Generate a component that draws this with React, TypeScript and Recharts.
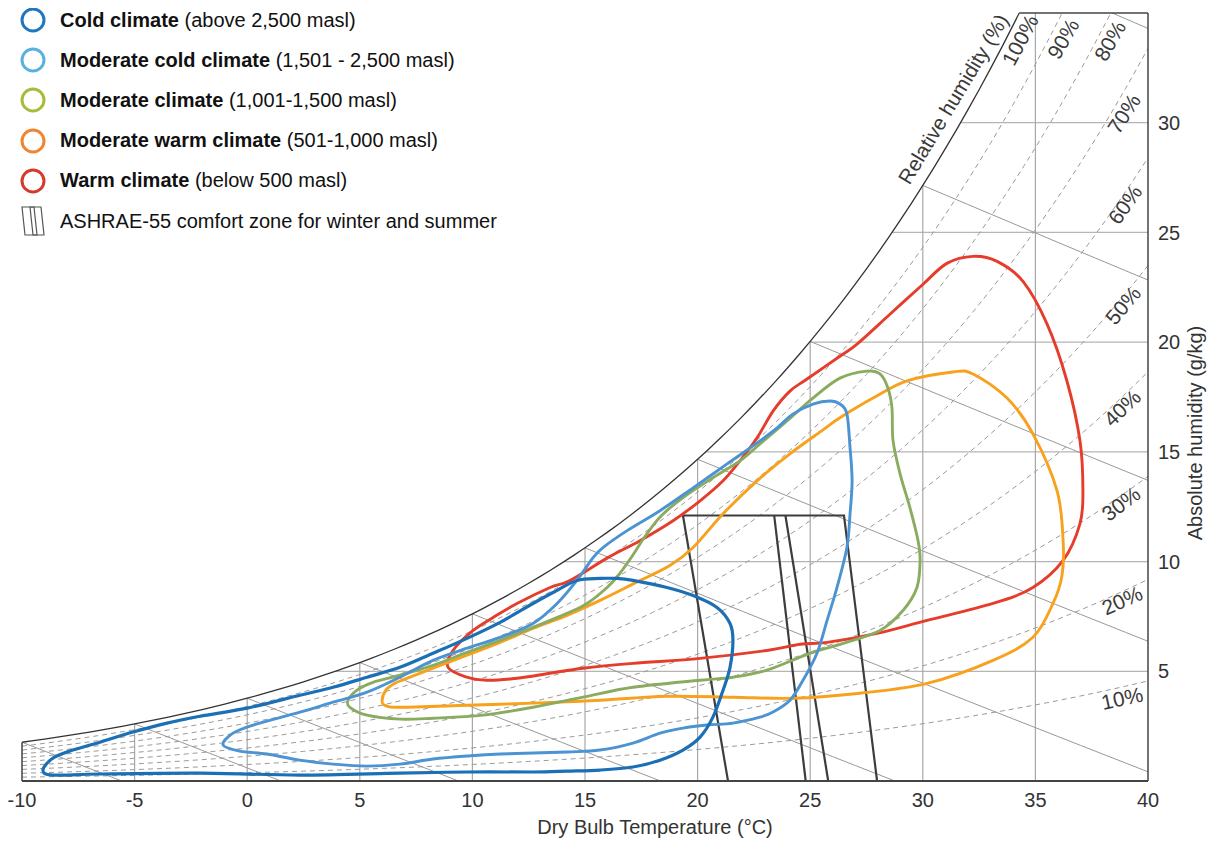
import React from "react";
import { LineChart, Line, XAxis, YAxis, ReferenceDot, Label } from "recharts";

const FONT = "'Liberation Sans', Arial, Helvetica, sans-serif";

// axis values
const tempTicks = [-10, -5, 0, 5, 10, 15, 20, 25, 30, 35, 40];
const humidityTicks = [5, 10, 15, 20, 25, 30];
const gridTemps = [-5, 0, 5, 10, 15, 20, 25, 30, 35];
const rhLevels = [10, 20, 30, 40, 50, 60, 70, 80, 90];
const rhLabels = ["10%", "20%", "30%", "40%", "50%", "60%", "70%", "80%", "90%", "100%"];
const wetBulbTemps = [-10, -5, 0, 5, 10, 15, 20, 25, 30, 35];

// climate envelopes, [dry bulb °C, absolute humidity g/kg]
const coldClimate = [
  [-9.07, 0.5], [-8.62, 1.05], [-7.74, 1.41], [-6.54, 1.77], [-5.07, 2.23], [-3.56, 2.64],
  [-2.1, 2.95], [0, 3.32], [2.34, 3.91], [3.81, 4.27], [5.32, 4.73], [6.78, 5.18],
  [8.25, 5.82], [9.76, 6.5], [11.23, 7.23], [12.69, 8.09], [13.58, 8.59], [14.64, 9.14],
  [15.67, 9.23], [16.42, 9.23], [17.13, 9.14], [18.64, 8.82], [19.8, 8.45], [20.86, 7.91],
  [21.44, 7.18], [21.57, 6.41], [21.44, 5.18], [21.13, 4.14], [20.68, 2.91], [20.11, 2.0],
  [19.35, 1.41], [18.33, 0.95], [17.13, 0.64], [15.67, 0.5], [14.2, 0.45], [12.69, 0.41],
  [9.76, 0.41], [6.78, 0.36], [2.34, 0.27], [-2.1, 0.36], [-6.54, 0.32], [-8.62, 0.27],
];

const moderateColdClimate = [
  [-1.07, 1.64], [-0.63, 2.18], [0.26, 2.55], [2.34, 3.14], [3.81, 3.59], [5.32, 4.05],
  [6.78, 4.73], [8.25, 5.5], [9.76, 6.05], [11.23, 6.55], [12.69, 7.18], [13.76, 8.09],
  [14.64, 9.14], [15.36, 10.18], [15.8, 10.64], [16.87, 11.41], [18.33, 12.32], [19.8, 13.36],
  [21.31, 14.45], [22.77, 15.5], [23.53, 16.09], [24.24, 16.73], [25.12, 17.18], [25.88, 17.32],
  [26.32, 17.18], [26.63, 16.73], [26.77, 15.18], [26.86, 13.68], [26.77, 12.18], [26.63, 10.64],
  [26.19, 8.82], [25.75, 7.32], [25.3, 5.82], [24.68, 4.59], [24.1, 3.68], [23.35, 3.14],
  [22.77, 2.91], [21.57, 2.64], [20.42, 2.55], [19.35, 2.41], [18.33, 2.18], [17.13, 1.73],
  [15.67, 1.41], [14.2, 1.32], [11.23, 1.23], [9.76, 1.14], [8.25, 1.0], [6.78, 0.77],
  [5.32, 0.68], [3.81, 0.77], [2.34, 0.95], [0.88, 1.23], [-0.32, 1.36],
];

const moderateClimate = [
  [4.48, 3.68], [4.88, 4.14], [5.59, 4.5], [6.78, 4.82], [8.25, 5.27], [9.76, 5.86],
  [11.23, 6.41], [12.69, 7.0], [14.2, 7.64], [15.09, 8.09], [15.98, 8.82], [16.5, 9.4],
  [17.13, 10.3], [17.7, 11.2], [18.4, 12.1], [19.4, 12.95], [20.68, 13.82], [21.88, 14.59],
  [22.77, 15.36], [23.97, 16.41], [25.12, 17.45], [26.32, 18.36], [27.52, 18.68], [28.1, 18.55],
  [28.45, 17.91], [28.63, 17.0], [28.68, 15.5], [28.99, 14.0], [29.43, 12.45], [29.79, 10.95],
  [29.88, 10.05], [29.74, 8.82], [29.12, 7.77], [28.1, 6.86], [26.46, 6.27], [24.99, 5.82],
  [23.08, 5.05], [21.57, 4.73], [20.11, 4.59], [17.13, 4.27], [14.91, 3.82], [12.69, 3.36],
  [10.47, 3.0], [8.25, 2.86], [6.78, 2.82], [5.32, 3.0], [4.56, 3.36],
];

const moderateWarmClimate = [
  [5.99, 3.68], [6.16, 4.14], [6.56, 4.45], [7.0, 4.64], [8.25, 5.14], [9.76, 5.73],
  [11.23, 6.32], [12.69, 6.95], [14.2, 7.55], [15.67, 8.23], [17.27, 9.05], [18.77, 9.82],
  [19.8, 10.64], [21.13, 12.18], [22.64, 13.68], [24.1, 14.91], [25.57, 16.0], [26.32, 16.55],
  [27.79, 17.45], [29.3, 18.23], [31.34, 18.64], [32.23, 18.55], [33.74, 17.45], [34.89, 15.82],
  [35.96, 13.23], [36.23, 10.95], [36.18, 9.36], [35.78, 8.09], [34.89, 6.55], [33.12, 5.5],
  [30.19, 4.45], [27.21, 4.0], [24.24, 3.77], [21.57, 3.82], [18.64, 3.86], [15.67, 3.68],
  [12.69, 3.55], [9.76, 3.45], [6.78, 3.36], [6.12, 3.45],
];

const warmClimate = [
  [8.92, 5.18], [9.14, 5.95], [10.03, 6.86], [10.92, 7.45], [11.98, 8.09], [13.45, 8.82],
  [14.33, 9.14], [16.02, 10.18], [17.44, 10.95], [18.91, 11.86], [20.11, 12.77], [21.13, 13.68],
  [21.88, 14.59], [22.64, 15.64], [23.35, 16.86], [24.1, 17.77], [24.86, 18.32], [26.32, 19.36],
  [27.08, 19.91], [28.54, 21.27], [30.01, 22.64], [31.07, 23.59], [32.23, 23.91], [33.3, 23.68],
  [34.45, 22.77], [35.52, 20.82], [36.4, 18.23], [36.98, 15.5], [37.11, 13.23], [36.98, 11.73],
  [36.23, 10.05], [34.89, 8.82], [33.12, 8.09], [30.19, 7.32], [27.97, 6.73], [25.75, 6.32],
  [24.55, 6.23], [23.08, 5.95], [20.11, 5.59], [17.13, 5.36], [14.91, 5.14], [13.45, 4.91],
  [11.98, 4.68], [10.65, 4.59], [9.76, 4.73],
];

// ASHRAE-55 comfort zones: outline plus the two inner edges
const comfortOutline = [[19.35, 12.1], [26.5, 12.1], [27.97, 0], [21.35, 0]];
const winterEdge = [[23.4, 12.1], [24.8, 0]];
const summerEdge = [[23.9, 12.1], [25.8, 0]];

const zones = [
  { key: "cold", title: "Cold climate", note: "(above 2,500 masl)", points: coldClimate },
  { key: "modCold", title: "Moderate cold climate", note: "(1,501 - 2,500 masl)", points: moderateColdClimate },
  { key: "moderate", title: "Moderate climate", note: "(1,001-1,500 masl)", points: moderateClimate },
  { key: "modWarm", title: "Moderate warm climate", note: "(501-1,000 masl)", points: moderateWarmClimate },
  { key: "warm", title: "Warm climate", note: "(below 500 masl)", points: warmClimate },
];

const lineColor: Record<string, string> = {
  cold: "#1b6fb5",
  modCold: "#4b93d3",
  moderate: "#8bab5f",
  modWarm: "#f8a11c",
  warm: "#e53c2b",
};
const legendColor: Record<string, string> = {
  cold: "#1f77c0",
  modCold: "#5ab0df",
  moderate: "#a6bd3c",
  modWarm: "#f08531",
  warm: "#d43b2b",
};

// label layout: [t, w, angle]
const rhLabelSpots = [
  [38.85, 3.77, -12], [38.85, 8.23, -24], [38.8, 12.64, -37], [38.85, 17.0, -44],
  [38.89, 21.68, -50], [38.98, 26.27, -55], [38.93, 30.41, -57], [38.31, 33.73, -60],
  [36.23, 33.82, -60], [34.32, 33.77, -62],
];

// psychrometrics at sea level
const P = 101.325;
const T_MIN = -10;
const T_MAX = 40;
const W_MAX = 35;
const pws = (t: number) => 0.61094 * Math.exp((17.625 * t) / (t + 243.04));
const humidity = (t: number, rh: number) => {
  const pw = (rh / 100) * pws(t);
  return (622 * pw) / (P - pw);
};
const wetBulbHumidity = (t: number, twb: number) => {
  const ws = humidity(twb, 100) / 1000;
  return (1000 * ((2501 - 2.326 * twb) * ws - 1.006 * (t - twb))) / (2501 + 1.86 * t - 4.186 * twb);
};

const bisect = (g: (t: number) => number, a: number, b: number) => {
  let ga = g(a);
  for (let i = 0; i < 60; i++) {
    const m = (a + b) / 2;
    const gm = g(m);
    if (gm > 0 === ga > 0) {
      a = m;
      ga = gm;
    } else b = m;
  }
  return (a + b) / 2;
};

const sample = (f: (t: number) => number, t0: number, t1: number, step = 0.5) => {
  const pts = [];
  for (let t = t0; t < t1 - 1e-6; t += step) pts.push({ t, w: f(t) });
  pts.push({ t: t1, w: f(t1) });
  return pts;
};

const rhCurve = (rh: number) => {
  const f = (t: number) => humidity(t, rh);
  const end = f(T_MAX) > W_MAX ? bisect((t) => f(t) - W_MAX, T_MIN, T_MAX) : T_MAX;
  return sample(f, T_MIN, end);
};

const wetBulbLine = (twb: number) => {
  const f = (t: number) => wetBulbHumidity(t, twb);
  const start = f(twb) > W_MAX ? bisect((t) => f(t) - W_MAX, twb, T_MAX) : twb;
  const end = f(T_MAX) < 0 ? bisect(f, twb, T_MAX) : T_MAX;
  return sample(f, start, end, 1);
};

const satTemp = (w: number) => bisect((t) => humidity(t, 100) - w, T_MIN, T_MAX);

const toRows = (pts: number[][]) => pts.map(([t, w]) => ({ t, w }));

// closed Catmull-Rom curve passing through every point
const closedCurve = (context: any) => {
  let pts: number[][] = [];
  return {
    areaStart() {},
    areaEnd() {},
    lineStart() {
      pts = [];
    },
    point(x: number, y: number) {
      pts.push([+x, +y]);
    },
    lineEnd() {
      const n = pts.length;
      if (n < 3) return;
      context.moveTo(pts[0][0], pts[0][1]);
      for (let i = 0; i < n; i++) {
        const p0 = pts[(i - 1 + n) % n];
        const p1 = pts[i];
        const p2 = pts[(i + 1) % n];
        const p3 = pts[(i + 2) % n];
        context.bezierCurveTo(
          p1[0] + (p2[0] - p0[0]) / 6,
          p1[1] + (p2[1] - p0[1]) / 6,
          p2[0] - (p3[0] - p1[0]) / 6,
          p2[1] - (p3[1] - p1[1]) / 6,
          p2[0],
          p2[1]
        );
      }
      context.closePath();
    },
  };
};

const plain = { dot: false, activeDot: false, isAnimationActive: false, legendType: "none" as const, dataKey: "w" };

const RotatedText = ({ viewBox, text, angle, size }: any) => {
  const x = viewBox.x + viewBox.width / 2;
  const y = viewBox.y + viewBox.height / 2;
  return (
    <text
      x={x}
      y={y}
      textAnchor="middle"
      dominantBaseline="central"
      transform={`rotate(${angle}, ${x}, ${y})`}
      fill="#3a3a3a"
      fontSize={size}
      fontFamily={FONT}
    >
      {text}
    </text>
  );
};

const ComfortIcon = () => (
  <svg width={28} height={32} style={{ display: "block" }}>
    <polygon points="3,2 15,2 18,30 6,30" fill="none" stroke="#555" strokeWidth={1.2} />
    <polygon points="11,2 22,2 25,30 14,30" fill="none" stroke="#555" strokeWidth={1.2} />
  </svg>
);

const ChartLegend = () => (
  <div style={{ position: "absolute", left: 11, top: -8, fontFamily: FONT, fontSize: 20, color: "#111" }}>
    {zones.map((z) => (
      <div key={z.key} style={{ display: "flex", alignItems: "center", height: 40.2 }}>
        <svg width={28} height={28} style={{ display: "block" }}>
          <circle cx={14} cy={14} r={11} fill="none" stroke={legendColor[z.key]} strokeWidth={3} />
        </svg>
        <span style={{ marginLeft: 13, whiteSpace: "nowrap" }}>
          <b>{z.title}</b> {z.note}
        </span>
      </div>
    ))}
    <div style={{ display: "flex", alignItems: "center", height: 40.2 }}>
      <ComfortIcon />
      <span style={{ marginLeft: 13, whiteSpace: "nowrap" }}>ASHRAE-55 comfort zone for winter and summer</span>
    </div>
  </div>
);

export default function App() {
  const tSat35 = satTemp(W_MAX);
  const ordered = [...zones].reverse();

  return (
    <div style={{ position: "relative", width: 1207, height: 833 }}>
      <LineChart width={1207} height={833} margin={{ top: 5, right: 0, bottom: 0, left: 14 }}>
        <XAxis
          type="number"
          dataKey="t"
          domain={[T_MIN, T_MAX]}
          ticks={tempTicks}
          interval={0}
          tickLine={false}
          axisLine={{ stroke: "#444", strokeWidth: 2 }}
          tick={{ fill: "#333", fontSize: 20, fontFamily: FONT }}
          tickMargin={6}
          height={60}
        >
          <Label
            value="Dry Bulb Temperature (°C)"
            position="insideBottom"
            offset={7}
            dx={70}
            style={{ fill: "#333", fontSize: 20, fontFamily: FONT }}
          />
        </XAxis>
        <YAxis
          type="number"
          orientation="right"
          domain={[0, W_MAX]}
          ticks={humidityTicks}
          interval={0}
          tickLine={false}
          axisLine={{ stroke: "#444", strokeWidth: 1.5 }}
          tick={{ fill: "#333", fontSize: 20, fontFamily: FONT }}
          tickMargin={4}
          width={67}
        >
          <Label
            value="Absolute humidity (g/kg)"
            angle={-90}
            position="center"
            dx={13}
            dy={36}
            style={{ fill: "#333", fontSize: 20, fontFamily: FONT }}
          />
        </YAxis>

        {humidityTicks.map((w) => (
          <Line
            key={`h${w}`}
            {...plain}
            data={[{ t: satTemp(w), w }, { t: T_MAX, w }]}
            stroke="#b5b5b5"
            strokeWidth={1.3}
          />
        ))}
        {gridTemps.map((t) => (
          <Line
            key={`v${t}`}
            {...plain}
            data={[{ t, w: 0 }, { t, w: Math.min(W_MAX, humidity(t, 100)) }]}
            stroke="#a8a8a8"
            strokeWidth={1.2}
          />
        ))}
        {wetBulbTemps.map((twb) => (
          <Line key={`wb${twb}`} {...plain} data={wetBulbLine(twb)} stroke="#999" strokeWidth={1} />
        ))}
        {rhLevels.map((rh) => (
          <Line
            key={`rh${rh}`}
            {...plain}
            type="monotone"
            data={rhCurve(rh)}
            stroke="#9a9a9a"
            strokeWidth={1}
            strokeDasharray="5 4"
          />
        ))}
        <Line {...plain} type="monotone" data={rhCurve(100)} stroke="#333" strokeWidth={1.3} />
        <Line {...plain} data={[{ t: tSat35, w: W_MAX }, { t: T_MAX, w: W_MAX }]} stroke="#444" strokeWidth={1.5} />
        <Line {...plain} data={[{ t: T_MIN, w: 0 }, { t: T_MIN, w: humidity(T_MIN, 100) }]} stroke="#444" strokeWidth={1.5} />

        <Line {...plain} type="linearClosed" data={toRows(comfortOutline)} stroke="#3d3d3d" strokeWidth={2.2} />
        <Line {...plain} data={toRows(winterEdge)} stroke="#3d3d3d" strokeWidth={2.2} />
        <Line {...plain} data={toRows(summerEdge)} stroke="#3d3d3d" strokeWidth={2.2} />

        {ordered.map((z) => (
          <Line
            key={z.key}
            {...plain}
            type={closedCurve as any}
            data={toRows(z.points)}
            stroke={lineColor[z.key]}
            strokeWidth={z.key === "cold" ? 3.2 : 2.9}
          />
        ))}

        {rhLabels.map((text, i) => (
          <ReferenceDot
            key={text}
            x={rhLabelSpots[i][0]}
            y={rhLabelSpots[i][1]}
            r={1}
            fill="none"
            stroke="none"
            label={(p: any) => <RotatedText {...p} text={text} angle={rhLabelSpots[i][2]} size={21} />}
          />
        ))}
        <ReferenceDot
          x={31.34}
          y={31.09}
          r={1}
          fill="none"
          stroke="none"
          label={(p: any) => <RotatedText {...p} text="Relative humidity (%)" angle={-59} size={20.5} />}
        />
      </LineChart>
      <ChartLegend />
    </div>
  );
}
